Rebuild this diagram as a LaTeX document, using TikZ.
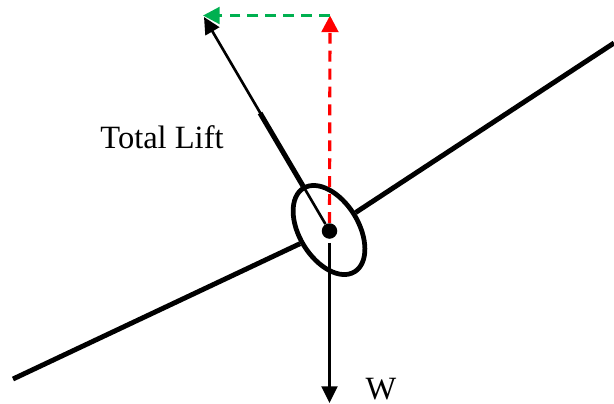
\documentclass[tikz,border=0pt]{standalone}
\usepackage{fontspec}
\setmainfont{Liberation Serif}
\usetikzlibrary{arrows.meta,shapes.geometric}

\tikzset{
  wing/.style={line width=2.8pt},
  force/.style={line width=1.5pt,-{Triangle[length=9.5pt,width=9pt]}},
  comp/.style={line width=1.8pt,dash pattern=on 6.2pt off 4pt,-{Triangle[length=9.5pt,width=9.5pt]}},
  lbl/.style={font=\fontsize{18.5}{20}\selectfont,inner sep=0pt}
}

\begin{document}
\begin{tikzpicture}[x=0.02cm,y=-0.02cm]
\useasboundingbox (0,0) rectangle (614,403);
\node [ellipse,draw,line width=2.7pt,minimum width=1.96cm,minimum height=1.18cm,inner sep=0pt,rotate=-58.5] (hub) at (329,230) {};
\node [circle,fill=black,minimum size=0.31cm,inner sep=0pt] (cg) at (329.5,231) {};
\coordinate (wingl) at (13,379);
\coordinate (wingr) at (614,43);
\coordinate (lifttip) at (204,17);
\coordinate (liftl) at (260,113);
\coordinate (liftr) at (303,186);
\coordinate (apex) at (330,15.5);
\coordinate (greentip) at (203,15.5);
\coordinate (wtip) at (329.5,403);
\draw [wing] (wingl) -- (hub);
\draw [wing] (wingr) -- (hub);
\draw [force] (cg) -- (lifttip);
\draw [line width=2.9pt] (liftl) -- (liftr);
\draw [force,shorten <=2.2pt] (cg) -- (wtip);
\draw [comp,red] (cg) -- (apex);
\draw [comp,color={rgb,255:red,0;green,176;blue,80}] (apex) -- (greentip);
\node [lbl] (lift) at (162,137) {Total Lift};
\node [lbl] (weight) at (381,389) {W};
\end{tikzpicture}
\end{document}
